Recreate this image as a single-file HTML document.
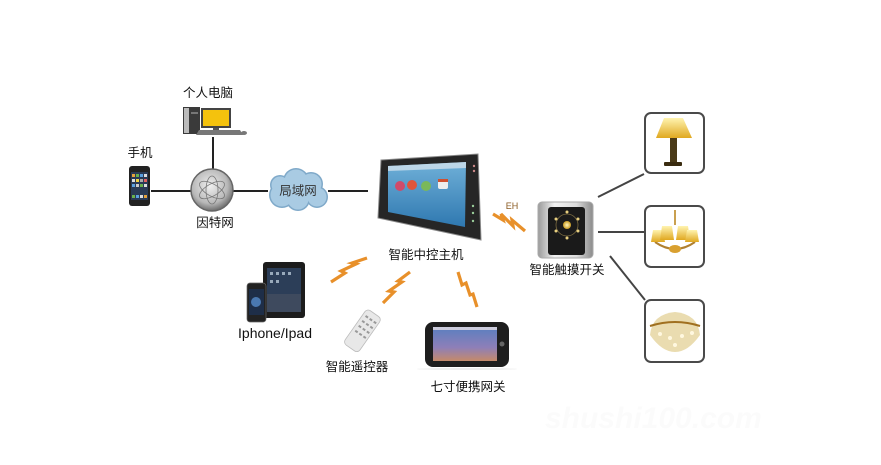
<!DOCTYPE html>
<html><head><meta charset="utf-8"><style>
html,body{margin:0;padding:0;background:#fff;}
svg{display:block;}
text{font-family:"Liberation Sans","Noto Sans CJK SC",sans-serif;fill:#111;}
</style></head><body>
<svg width="881" height="465" viewBox="0 0 881 465" xmlns="http://www.w3.org/2000/svg">
<defs>
<radialGradient id="globe" cx="45%" cy="40%" r="60%"><stop offset="0" stop-color="#f0f0f0"/><stop offset="0.7" stop-color="#b8b8b8"/><stop offset="1" stop-color="#6e6e6e"/></radialGradient>
<linearGradient id="scr" x1="0" y1="0" x2="0" y2="1"><stop offset="0" stop-color="#6fb0d8"/><stop offset="1" stop-color="#2f78b0"/></linearGradient>
<linearGradient id="silver" x1="0" y1="0" x2="1" y2="0"><stop offset="0" stop-color="#9a9a9a"/><stop offset="0.3" stop-color="#f2f2f2"/><stop offset="0.7" stop-color="#dcdcdc"/><stop offset="1" stop-color="#8a8a8a"/></linearGradient>
<linearGradient id="tab" x1="0" y1="0" x2="0" y2="1"><stop offset="0" stop-color="#5a7fc0"/><stop offset="0.6" stop-color="#8e7fb8"/><stop offset="1" stop-color="#c58a6a"/></linearGradient>
<radialGradient id="glow" cx="50%" cy="50%" r="50%"><stop offset="0" stop-color="#fff6c0"/><stop offset="1" stop-color="#c99a20"/></radialGradient>
<linearGradient id="shade" x1="0" y1="0" x2="0" y2="1"><stop offset="0" stop-color="#fff4b0"/><stop offset="1" stop-color="#e0a820"/></linearGradient>
</defs>

<!-- connecting lines -->
<g stroke="#222" stroke-width="2" fill="none">
<line x1="213" y1="137" x2="213" y2="170"/>
<line x1="151" y1="191" x2="191" y2="191"/>
<line x1="233" y1="191" x2="268" y2="191"/>
<line x1="328" y1="191" x2="368" y2="191"/>
</g>
<g stroke="#444" stroke-width="2" fill="none">
<line x1="598" y1="197" x2="644" y2="174"/>
<line x1="598" y1="232" x2="644" y2="232"/>
<line x1="610" y1="256" x2="645" y2="300"/>
</g>

<!-- labels -->
<g font-size="12.5" text-anchor="middle">
<text x="208" y="97">个人电脑</text>
<text x="140" y="157">手机</text>
<text x="215" y="227">因特网</text>
<text x="426" y="259">智能中控主机</text>
<text x="567" y="274">智能触摸开关</text>
<text x="357" y="371">智能遥控器</text>
<text x="468" y="391">七寸便携网关</text>
</g>
<text x="275" y="338" font-size="14" text-anchor="middle">Iphone/Ipad</text>
<text x="512" y="209" font-size="9" text-anchor="middle" style="fill:#8a5a20">EH</text>

<!-- PC -->
<rect x="183" y="107" width="17" height="27" fill="#3a3a3a"/>
<rect x="184" y="108" width="5" height="25" fill="#bbb"/>
<rect x="191" y="112" width="7" height="2" fill="#777"/>
<rect x="201" y="108" width="30" height="20" fill="#444"/>
<rect x="203" y="110" width="26" height="16" fill="#f4c20d"/>
<rect x="213" y="128" width="6" height="3" fill="#555"/>
<polygon points="199,130 240,130 243,135 196,135" fill="#777"/>
<ellipse cx="244" cy="133" rx="3" ry="2" fill="#777"/>

<!-- phone -->
<rect x="129" y="166" width="21" height="40" rx="3" fill="#222"/>
<rect x="131" y="172" width="17" height="28" fill="#2a3a55"/>
<g>
<rect x="132" y="174" width="3" height="3" fill="#e6a23c"/><rect x="136" y="174" width="3" height="3" fill="#6ab04c"/><rect x="140" y="174" width="3" height="3" fill="#5aa0e0"/><rect x="144" y="174" width="3" height="3" fill="#ddd"/>
<rect x="132" y="179" width="3" height="3" fill="#ddd"/><rect x="136" y="179" width="3" height="3" fill="#f0d040"/><rect x="140" y="179" width="3" height="3" fill="#aaa"/><rect x="144" y="179" width="3" height="3" fill="#e06060"/>
<rect x="132" y="184" width="3" height="3" fill="#5aa0e0"/><rect x="136" y="184" width="3" height="3" fill="#ccc"/><rect x="140" y="184" width="3" height="3" fill="#6ab04c"/><rect x="144" y="184" width="3" height="3" fill="#ddd"/>
<rect x="132" y="195" width="3" height="3" fill="#6ab04c"/><rect x="136" y="195" width="3" height="3" fill="#5aa0e0"/><rect x="140" y="195" width="3" height="3" fill="#ddd"/><rect x="144" y="195" width="3" height="3" fill="#e6a23c"/>
</g>

<!-- globe -->
<circle cx="212" cy="190" r="21" fill="url(#globe)" stroke="#666" stroke-width="1.5"/>
<g fill="none" stroke="#777" stroke-width="0.8">
<ellipse cx="212" cy="190" rx="14" ry="6" transform="rotate(30 212 190)"/>
<ellipse cx="212" cy="190" rx="14" ry="6" transform="rotate(-30 212 190)"/>
<ellipse cx="212" cy="190" rx="14" ry="6" transform="rotate(90 212 190)"/>
</g>

<!-- cloud -->
<g fill="#7fa9c9">
<circle cx="282" cy="195" r="13"/><circle cx="296" cy="181" r="13"/><circle cx="311" cy="184" r="12"/><circle cx="317" cy="197" r="11"/><circle cx="298" cy="199" r="12"/><circle cx="280" cy="185" r="10"/>
</g>
<g fill="#a9cbe3">
<circle cx="282" cy="195" r="11.5"/><circle cx="296" cy="181" r="11.5"/><circle cx="311" cy="184" r="10.5"/><circle cx="317" cy="197" r="9.5"/><circle cx="298" cy="199" r="10.5"/><circle cx="280" cy="185" r="8.5"/><rect x="285" y="185" width="25" height="12"/>
</g>
<text x="298" y="195" font-size="12.5" text-anchor="middle" style="fill:#333">局域网</text>

<!-- main panel -->
<polygon points="381,160 478,154 481,240 378,218" fill="#262626" stroke="#888" stroke-width="1"/>
<polygon points="388,166 466,162 465,227 388,212" fill="url(#scr)"/>
<polygon points="388,166 466,162 466,168 388,171" fill="#dfe8f0" opacity="0.7"/>
<circle cx="400" cy="186" r="5" fill="#d04a6a"/>
<circle cx="412" cy="185" r="5" fill="#e0553a"/>
<circle cx="426" cy="186" r="5" fill="#7ab85a"/>
<rect x="438" y="179" width="10" height="10" rx="2" fill="#eeeeee"/>
<rect x="438" y="179" width="10" height="3" fill="#d05030"/>
<circle cx="474" cy="166" r="1.2" fill="#c88"/><circle cx="474" cy="171" r="1.2" fill="#c88"/>
<circle cx="473" cy="206" r="1.2" fill="#9c9"/><circle cx="473" cy="213" r="1.2" fill="#9c9"/><circle cx="473" cy="221" r="1.2" fill="#9c9"/>

<!-- lightning bolts -->
<g fill="none" stroke="#e8902a" stroke-width="3.2" stroke-linejoin="miter">
<polyline points="493,214 503,220 501,214 513,226 512,220 525,231"/>
<polyline points="331,282 345,273 341,271 356,264 352,263 367,258"/>
<polyline points="383,303 394,292 389,291 402,282 398,281 410,272"/>
<polyline points="458,272 462,285 466,283 470,295 473,294 477,307"/>
</g>

<!-- touch switch -->
<rect x="538" y="202" width="55" height="56" rx="4" fill="url(#silver)" stroke="#aaa" stroke-width="1"/>
<rect x="548" y="207" width="37" height="48" rx="3" fill="#1a1a1a"/>
<circle cx="567" cy="225" r="11" fill="none" stroke="#7a6a40" stroke-width="0.8"/>
<circle cx="567" cy="225" r="4" fill="url(#glow)"/>
<g fill="#e8d080"><circle cx="567" cy="212" r="1.5"/><circle cx="567" cy="238" r="1.5"/><circle cx="556" cy="219" r="1.5"/><circle cx="578" cy="219" r="1.5"/><circle cx="556" cy="231" r="1.5"/><circle cx="578" cy="231" r="1.5"/></g>

<!-- lamp boxes -->
<g fill="#fff" stroke="#4a4a4a" stroke-width="2">
<rect x="645" y="113" width="59" height="60" rx="6"/>
<rect x="645" y="206" width="59" height="61" rx="6"/>
<rect x="645" y="300" width="59" height="62" rx="6"/>
</g>
<!-- table lamp -->
<polygon points="664,118 683,118 692,138 656,138" fill="url(#shade)"/>
<rect x="670" y="138" width="7" height="25" fill="#4a3a18"/>
<rect x="664" y="162" width="18" height="4" rx="1" fill="#3a2c10"/>
<!-- chandelier -->
<line x1="675" y1="210" x2="675" y2="225" stroke="#c9a050" stroke-width="2"/>
<path d="M655 242 Q675 256 695 242" fill="none" stroke="#b08030" stroke-width="2"/>
<g fill="url(#shade)">
<polygon points="653,230 663,230 665,242 651,242"/>
<polygon points="662,226 672,226 674,240 660,240"/>
<polygon points="678,226 688,226 690,240 676,240"/>
<polygon points="687,230 697,230 699,242 685,242"/>
</g>
<ellipse cx="675" cy="249" rx="6" ry="4" fill="#d9a030"/>
<!-- crystal ceiling light -->
<path d="M650 335 Q652 314 675 312 Q698 314 700 335 Q688 352 675 352 Q662 352 650 335Z" fill="#eadcb0"/>
<path d="M650 326 Q675 318 700 326" fill="none" stroke="#a07020" stroke-width="2"/>
<g fill="#fff8e0"><circle cx="660" cy="334" r="2"/><circle cx="670" cy="338" r="2"/><circle cx="682" cy="336" r="2"/><circle cx="692" cy="333" r="2"/><circle cx="675" cy="345" r="2"/></g>

<!-- ipad/iphone -->
<rect x="263" y="262" width="42" height="56" rx="3" fill="#1c1c1c"/>
<rect x="267" y="268" width="34" height="44" fill="#2c3e58"/>
<rect x="267" y="294" width="34" height="18" fill="#3e4a5e"/>
<g fill="#9ab"><rect x="270" y="272" width="3" height="3"/><rect x="276" y="272" width="3" height="3"/><rect x="282" y="272" width="3" height="3"/><rect x="288" y="272" width="3" height="3"/><rect x="270" y="280" width="3" height="3"/><rect x="276" y="280" width="3" height="3"/></g>
<rect x="247" y="283" width="19" height="39" rx="3" fill="#222" stroke="#666" stroke-width="0.7"/>
<rect x="249" y="289" width="15" height="26" fill="#1e2e48"/>
<circle cx="256" cy="302" r="5" fill="#4a78b0"/>

<!-- remote -->
<g transform="rotate(35 363 330)">
<rect x="354" y="310" width="18" height="42" rx="4" fill="#e8e8e8" stroke="#bbb" stroke-width="0.8"/>
<g fill="#999"><rect x="357" y="316" width="3" height="2"/><rect x="362" y="316" width="3" height="2"/><rect x="367" y="316" width="3" height="2"/><rect x="357" y="322" width="3" height="2"/><rect x="362" y="322" width="3" height="2"/><rect x="367" y="322" width="3" height="2"/><rect x="357" y="328" width="3" height="2"/><rect x="362" y="328" width="3" height="2"/><rect x="367" y="328" width="3" height="2"/><rect x="357" y="334" width="3" height="2"/><rect x="362" y="334" width="3" height="2"/><rect x="367" y="334" width="3" height="2"/></g>
</g>

<!-- 7 inch gateway -->
<rect x="425" y="322" width="84" height="45" rx="8" fill="#1e1e1e"/>
<rect x="433" y="327" width="64" height="34" fill="url(#tab)"/>
<rect x="433" y="327" width="64" height="3" fill="#ccd"/>
<circle cx="502" cy="344" r="2.5" fill="#666"/>
<ellipse cx="467" cy="369" rx="50" ry="1" fill="#eee"/>

<!-- watermark -->
<text x="545" y="428" font-size="30" font-style="italic" font-weight="bold" style="fill:#fbfbfb">shushi100.com</text>
</svg>
</body></html>
